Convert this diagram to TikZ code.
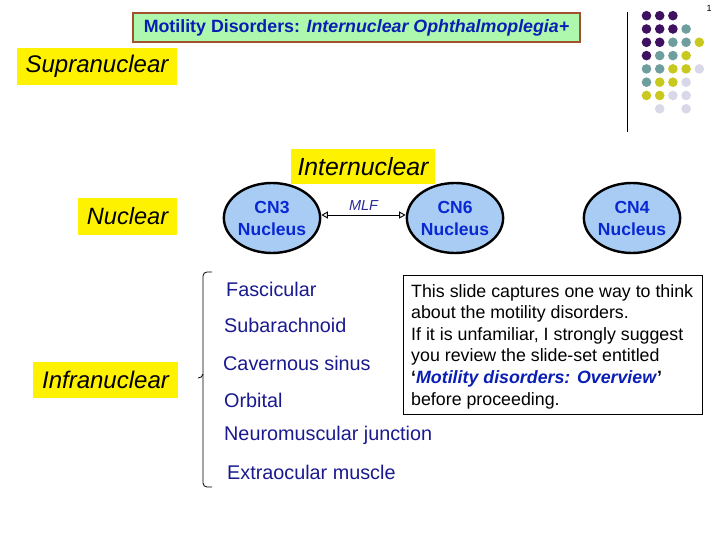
\documentclass[tikz,border=0pt]{standalone}
\usepackage{fontspec}
\setmainfont{Liberation Sans}
\usetikzlibrary{arrows.meta,shapes.geometric}
\definecolor{titlegreen}{HTML}{AEF8AE}
\definecolor{titleborder}{HTML}{A0522D}
\definecolor{titleblue}{HTML}{0A1EB4}
\definecolor{nucfill}{HTML}{A8CCF4}
\definecolor{nucblue}{HTML}{0A28D2}
\definecolor{listblue}{HTML}{1A1A90}
\definecolor{mlfblue}{HTML}{2A2A9A}
\definecolor{dpurple}{HTML}{3E1260}
\definecolor{dteal}{HTML}{6E9E9E}
\definecolor{dyellow}{HTML}{C8C81E}
\definecolor{dlav}{HTML}{D8D8E8}
\tikzset{
  levelbox/.style={fill=yellow, inner sep=0pt, font=\fontsize{24}{27}\selectfont\itshape},
  nucleus/.style={ellipse, draw=black, line width=2.4pt, fill=nucfill, minimum width=88pt, minimum height=70pt, inner sep=0pt, align=center, text=nucblue, font=\fontsize{17.5}{22}\selectfont\bfseries},
  listitem/.style={anchor=west, inner sep=0pt, text=listblue, font=\fontsize{19.8}{22}\selectfont},
  dotP/.style={fill=dpurple},
  dotT/.style={fill=dteal},
  dotY/.style={fill=dyellow},
  dotL/.style={fill=dlav},
}
\begin{document}
\begin{tikzpicture}[x=1pt,y=-1pt]
\useasboundingbox (0,0) rectangle (720,540);
\fill[white] (0,0) rectangle (720,540);

% title
\node[draw=titleborder, line width=1.3pt, fill=titlegreen, minimum width=447pt, minimum height=29pt, inner sep=0pt,
  text=titleblue, font=\fontsize{17.8}{20}\selectfont\bfseries] (title) at (356.5,27.5)
  {Motility Disorders: \textit{Internuclear Ophthalmoplegia+}};

% page number
\node[font=\fontsize{9}{10}\selectfont, inner sep=0pt] (pnum) at (709,8) {1};

% decorative line and dots
\draw[line width=1pt] (627,12) -- (627,132);
\foreach \row/\cols in {
  0/{0/P,1/P,2/P},
  1/{0/P,1/P,2/P,3/T},
  2/{0/P,1/P,2/T,3/T,4/Y},
  3/{0/P,1/T,2/T,3/Y},
  4/{0/T,1/T,2/Y,3/Y,4/L},
  5/{0/T,1/Y,2/Y,3/L},
  6/{0/Y,1/Y,2/L,3/L},
  7/{1/L,3/L}} {
  \foreach \c/\k in \cols {
    \fill[dot\k] ({646.5+13.2*\c},{15.7+13.3*\row}) circle (4.8);
  }
}

% level labels
\node[levelbox, minimum width=160pt, minimum height=37pt] (supra) at (97,66.5) {Supranuclear};
\node[levelbox, minimum width=99pt, minimum height=37pt, font=\fontsize{23.6}{27}\selectfont\itshape] (nuc) at (127.5,216.5) {Nuclear};
\node[levelbox, minimum width=145pt, minimum height=36pt] (infra) at (105.5,380) {Infranuclear};
\node[levelbox, minimum width=144pt, minimum height=35pt, font=\fontsize{24.8}{27}\selectfont\itshape] (inter) at (363,166.5) {Internuclear};

% nuclei
\node[nucleus] (cn3) at (272,218) {CN3\\Nucleus};
\node[nucleus] (cn6) at (455,218) {CN6\\Nucleus};
\node[nucleus] (cn4) at (632,218) {CN4\\Nucleus};

% MLF
\draw[line width=0.9pt, {Triangle[open, length=6.5pt, width=7pt]}-{Triangle[open, length=6.5pt, width=7pt]}]
  (cn3.east |- 0,215) -- node[above=1pt, text=mlfblue, font=\fontsize{14.5}{16}\selectfont\itshape] (mlf) {MLF} (cn6.west |- 0,215);

% bracket
\draw[line width=0.8pt] (212,272) -- (207,272) to[out=180,in=90] (203,276) -- (203,374)
  to[out=-90,in=0] (198,378);
\draw[line width=0.8pt] (203,374) to[out=-90,in=90] (203,382) -- (203,483) to[out=-90,in=180] (207,487) -- (212,487);

% list
\node[listitem] (fasc) at (226,289) {Fascicular};
\node[listitem] (sub) at (224,325) {Subarachnoid};
\node[listitem] (cav) at (223,363) {Cavernous sinus};
\node[listitem] (orb) at (224,400) {Orbital};
\node[listitem] (nmj) at (224,435) {Neuromuscular junction};
\node[listitem] (eom) at (227,472) {Extraocular muscle};

% note box
\draw[line width=1pt, fill=white] (403,275) rectangle (702,414);
\node[anchor=north west, inner sep=0pt, align=left, font=\fontsize{17.8}{21.6}\selectfont] (note) at (411,284)
  {This slide captures one way to think\\
   about the motility disorders.\\
   If it is unfamiliar, I strongly suggest\\
   you review the slide-set entitled\\
   \textbf{‘\textcolor{titleblue}{\textit{Motility disorders: Overview}}’}\\
   before proceeding.};
\end{tikzpicture}
\end{document}
